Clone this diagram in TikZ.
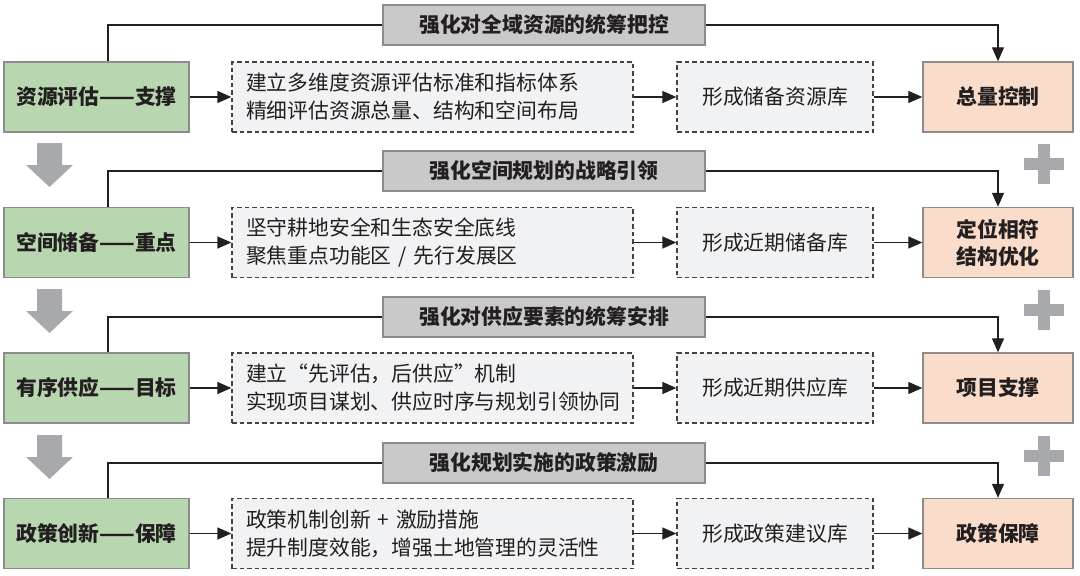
\documentclass[tikz,border=0pt]{standalone}
\usepackage{fontspec}
\setmainfont{Noto Sans CJK SC}
\usetikzlibrary{arrows.meta}
\definecolor{gfill}{HTML}{B8D7B1}
\definecolor{ofill}{HTML}{F9DCC9}
\definecolor{bfill}{HTML}{C9C9CA}
\definecolor{dfill}{HTML}{F1F2F4}
\definecolor{bord}{HTML}{8C8C8C}
\definecolor{gshape}{HTML}{A8A9AC}
\definecolor{txt}{HTML}{231F20}
\tikzset{
  greenbox/.style={draw=bord, line width=1.4pt, fill=gfill, minimum width=185pt, minimum height=70pt, inner sep=0pt, font=\fontsize{20.8}{24}\selectfont\bfseries, text=txt},
  orangebox/.style={draw=bord, line width=1.4pt, fill=ofill, minimum width=150pt, minimum height=70pt, inner sep=0pt, align=center, font=\fontsize{20.8}{27}\selectfont\bfseries, text=txt},
  bannerbox/.style={draw=bord, line width=1.4pt, fill=bfill, minimum width=322pt, minimum height=40pt, inner sep=0pt, font=\fontsize{20.8}{24}\selectfont\bfseries, text=txt},
  descbox/.style={draw=txt!85, dash pattern=on 4.5pt off 3pt, line width=1.3pt, fill=dfill, minimum width=401pt, minimum height=70pt, inner xsep=14pt, inner ysep=0pt, text width=373pt, align=left, font=\fontsize{20.8}{28}\selectfont, text=txt},
  libbox/.style={draw=txt!85, dash pattern=on 4.5pt off 3pt, line width=1.3pt, fill=dfill, minimum width=196pt, minimum height=70pt, inner sep=0pt, font=\fontsize{20.8}{24}\selectfont, text=txt},
  conn/.style={draw=txt, line width=1.3pt},
  arr/.style={conn, -{Triangle[length=14pt,width=12pt]}},
  gshapes/.style={fill=gshape, draw=none}
}
\begin{document}
\begin{tikzpicture}[x=1pt,y=-1pt]
\useasboundingbox (0,0) rectangle (1080,576);
\foreach \i/\yc/\yb/\gt/\dt/\lt/\ot/\bt in {
 1/97/25/{资源评估——支撑}/{建立多维度资源评估标准和指标体系\\精细评估资源总量、结构和空间布局}/{形成储备资源库}/{总量控制}/{强化对全域资源的统筹把控},
 2/242.5/171/{空间储备——重点}/{坚守耕地安全和生态安全底线\\聚焦重点功能区 / 先行发展区}/{形成近期储备库}/{定位相符\\结构优化}/{强化空间规划的战略引领},
 3/388/317/{有序供应——目标}/{建立“先评估，后供应”机制\\实现项目谋划、供应时序与规划引领协同}/{形成近期供应库}/{项目支撑}/{强化对供应要素的统筹安排},
 4/533.5/463/{政策创新——保障}/{政策机制创新 + 激励措施\\提升制度效能，增强土地管理的灵活性}/{形成政策建议库}/{政策保障}/{强化规划实施的政策激励}}
{
  \node[greenbox] (g\i) at (96.5,\yc) {\gt};
  \node[descbox] (d\i) at (432.5,\yc) {\dt};
  \node[libbox] (l\i) at (775,\yc) {\lt};
  \node[orangebox] (o\i) at (998,\yc) {\ot};
  \node[bannerbox] (b\i) at (544,\yb) {\bt};
  \coordinate (s\i) at ([xshift=11.5pt]g\i.north);
  \draw[conn] (s\i) |- (b\i.west);
  \draw[arr] (b\i.east) -| (o\i.north);
  \draw[arr] (g\i) -- (d\i);
  \draw[arr] (d\i) -- (l\i);
  \draw[arr] (l\i) -- (o\i);
}
\foreach \y in {143,289,435}{
  \fill[gshapes] (37,\y) -- (62,\y) -- (62,\y+22) -- (73,\y+22) -- (49.5,\y+44) -- (26,\y+22) -- (37,\y+22) -- cycle;
}
\foreach \y in {164,310,456}{
  \fill[gshapes] (1024,\y-6) rectangle (1064,\y+6);
  \fill[gshapes] (1038,\y-20) rectangle (1050,\y+20);
}
\end{tikzpicture}
\end{document}
